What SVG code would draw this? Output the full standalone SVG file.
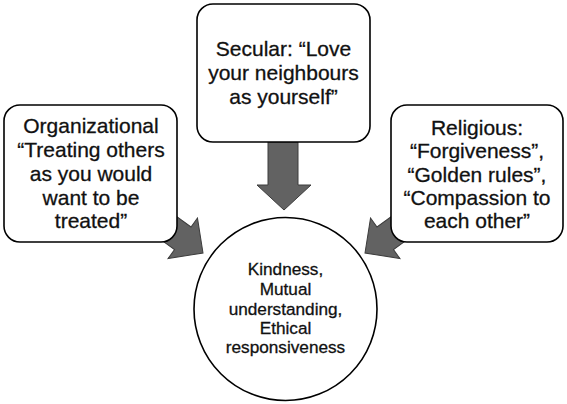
<svg xmlns="http://www.w3.org/2000/svg" width="567" height="404" viewBox="0 0 567 404">
<style>
.box{fill:#fff;stroke:#000;stroke-width:1.6}
.arrow{fill:#626262;stroke:#3c3c3c;stroke-width:1}
text{font-family:"Liberation Sans",Arial,sans-serif;fill:#111;stroke:#111;stroke-width:0.3;text-anchor:middle}
.t{font-size:21px}
.c{font-size:17.2px}
</style>
<defs>
<path id="arr" d="M-75,-14 L-25,-14 L-25,-25 L0,0 L-25,25 L-25,14 L-75,14 Z"/>
</defs>
<g id="connectors">
<use href="#arr" class="arrow" transform="translate(203,253) rotate(36)"/>
<use href="#arr" class="arrow" transform="translate(365,253) scale(-1,1) rotate(36)"/>
<path class="arrow" d="M268,142 L298,142 L298,185 L311,185 L284,210 L257,185 L268,185 Z"/>
</g>
<g id="organizational">
<rect class="box" x="4" y="105" width="173" height="137" rx="16"/>
<text class="t"><tspan x="91" y="133">Organizational</tspan><tspan x="91" y="157">“Treating others</tspan><tspan x="91" y="181">as you would</tspan><tspan x="91" y="205">want to be</tspan><tspan x="91" y="228">treated”</tspan></text>
</g>
<g id="secular">
<rect class="box" x="197" y="4" width="173" height="138" rx="16"/>
<text class="t"><tspan x="283.5" y="56">Secular: “Love</tspan><tspan x="283.5" y="80">your neighbours</tspan><tspan x="283.5" y="104">as yourself”</tspan></text>
</g>
<g id="religious">
<rect class="box" x="391" y="105" width="172" height="137" rx="16"/>
<text class="t"><tspan x="477" y="135">Religious:</tspan><tspan x="477" y="158">“Forgiveness”,</tspan><tspan x="477" y="182">“Golden rules”,</tspan><tspan x="477" y="205">“Compassion to</tspan><tspan x="477" y="228">each other”</tspan></text>
</g>
<g id="center">
<circle cx="285.5" cy="309" r="91.5" fill="#fff" stroke="#000" stroke-width="1.6"/>
<text class="c"><tspan x="285.5" y="275">Kindness,</tspan><tspan x="285.5" y="295">Mutual</tspan><tspan x="285.5" y="315">understanding,</tspan><tspan x="285.5" y="334">Ethical</tspan><tspan x="285.5" y="353">responsiveness</tspan></text>
</g>
</svg>
